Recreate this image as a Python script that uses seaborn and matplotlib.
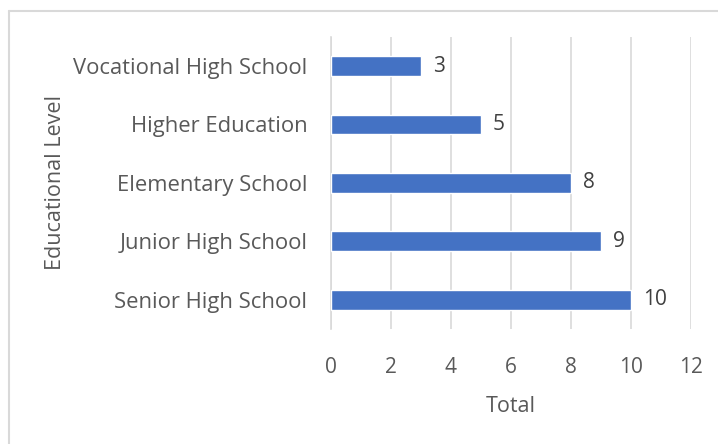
import matplotlib
matplotlib.use("Agg")
import matplotlib.pyplot as plt
from matplotlib.lines import Line2D
import seaborn as sns
import pandas as pd

categories = ["Vocational High School", "Higher Education", "Elementary School",
              "Junior High School", "Senior High School"]
values = [3, 5, 8, 9, 10]
x_ticks = [0, 2, 4, 6, 8, 10, 12]

sns.set_theme(style="white")
plt.rcParams["font.family"] = ["Open Sans", "DejaVu Sans"]

df = pd.DataFrame({"level": categories, "total": values})

fig = plt.figure(figsize=(7.18, 4.44), dpi=100)
ax = fig.add_axes([0.461, 0.259, 0.501, 0.658])

text_c = "#595959"
fs = 15.5
sns.barplot(data=df, y="level", x="total", orient="h", color="#4472C4",
            width=0.34, saturation=1, ax=ax, zorder=3)

ax.set_xlim(0, 12)
ax.set_xticks(x_ticks)
ax.set_xticklabels([str(t) for t in x_ticks])
ax.grid(axis="x", color="#D9D9D9", linewidth=1.2, zorder=0)
for s in ["top", "right", "bottom"]:
    ax.spines[s].set_visible(False)
ax.spines["left"].set_color("#D9D9D9")
ax.spines["left"].set_linewidth(1.2)
ax.tick_params(axis="x", length=0, labelsize=fs - 0.5, colors=text_c, pad=20)
ax.tick_params(axis="y", length=0, labelsize=fs + 0.3, colors=text_c, pad=17)

for p, v in zip(ax.patches, values):
    ax.text(p.get_width() + 0.4, p.get_y() + p.get_height() / 2, str(v),
            va="center", ha="left", fontsize=fs - 0.5, color="#404040")

ax.set_xlabel("Total", fontsize=fs, color=text_c, labelpad=13)
ax.set_ylabel("Educational Level", fontsize=fs, color=text_c, labelpad=5)

# outer chart border (top and left visible)
fig.add_artist(Line2D([0.0125, 1.0], [0.975, 0.975], transform=fig.transFigure,
                      color="#D9D9D9", linewidth=1.5))
fig.add_artist(Line2D([0.0125, 0.0125], [0.0, 0.975], transform=fig.transFigure,
                      color="#D9D9D9", linewidth=1.5))

fig.savefig("out.png", dpi=100)
